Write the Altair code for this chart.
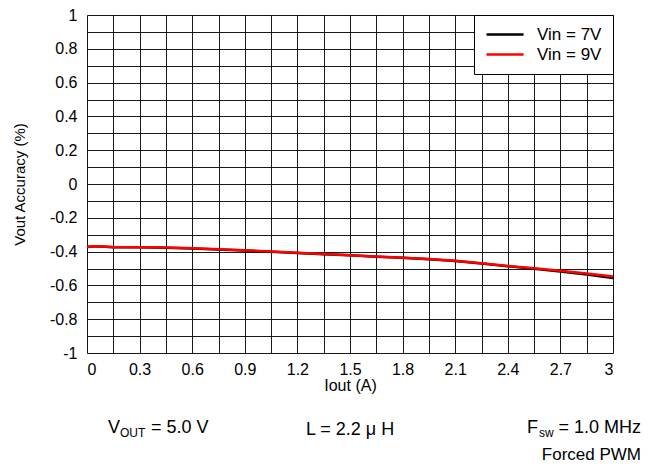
import altair as alt
import pandas as pd

iout = [0.0, 0.05, 0.15, 0.3, 0.45, 0.6, 0.75, 0.9, 1.05, 1.2, 1.35, 1.5,
        1.65, 1.8, 1.95, 2.1, 2.25, 2.4, 2.55, 2.7, 2.85, 3.0]
acc_7v = [-0.373, -0.369, -0.374, -0.375, -0.377, -0.381, -0.387, -0.393,
          -0.401, -0.408, -0.415, -0.422, -0.430, -0.437, -0.445, -0.456,
          -0.471, -0.487, -0.502, -0.518, -0.536, -0.556]
acc_9v = [-0.372, -0.369, -0.373, -0.374, -0.376, -0.380, -0.386, -0.392,
          -0.400, -0.407, -0.414, -0.421, -0.429, -0.436, -0.444, -0.454,
          -0.469, -0.485, -0.499, -0.514, -0.530, -0.548]
series = ["Vin = 7V", "Vin = 9V"]
colors = ["#000000", "#ff0000"]

x_ticks = [round(0.15 * i, 2) for i in range(21)]
y_ticks = [round(-1 + 0.1 * i, 1) for i in range(21)]

rows = []
for name, vals in zip(series, [acc_7v, acc_9v]):
    for xv, yv in zip(iout, vals):
        rows.append({"Iout": xv, "Acc": yv, "Series": name})
df = pd.DataFrame(rows)

FONT = "Liberation Sans"

lines = alt.Chart(df).mark_line(strokeWidth=2.5).encode(
    x=alt.X("Iout:Q", title="Iout (A)",
            scale=alt.Scale(domain=[0, 3], nice=False, zero=False),
            axis=alt.Axis(values=x_ticks,
                          labelExpr="abs(round(datum.value*100)) % 30 == 0 ? '' + datum.value : ''",
                          grid=True, gridColor="#000", gridWidth=1, gridOpacity=0.9,
                          ticks=False, domain=False, labelPadding=8,
                          labelFontSize=16, labelFont=FONT, labelColor="#000",
                          titleFontSize=16, titleFont=FONT, titleFontWeight="normal",
                          titleColor="#000", titlePadding=0)),
    y=alt.Y("Acc:Q", title="Vout Accuracy (%)",
            scale=alt.Scale(domain=[-1, 1], nice=False, zero=False),
            axis=alt.Axis(values=y_ticks,
                          labelExpr="abs(round(datum.value*100)) % 20 == 0 ? '' + datum.value : ''",
                          grid=True, gridColor="#000", gridWidth=1, gridOpacity=0.9,
                          ticks=False, domain=False, labelPadding=10,
                          labelFontSize=16, labelFont=FONT, labelColor="#000",
                          titleFontSize=15, titleFont=FONT, titleFontWeight="normal",
                          titleColor="#000", titlePadding=22)),
    color=alt.Color("Series:N",
                    scale=alt.Scale(domain=series, range=colors),
                    legend=alt.Legend(title=None, orient="top-right", offset=0,
                                      symbolType="M-1,0H4.3", symbolStrokeWidth=2.5,
                                      symbolSize=196, labelFontSize=17,
                                      labelFont=FONT, labelColor="#000",
                                      strokeColor="#000", fillColor="#fff",
                                      padding=11, rowPadding=2,
                                      labelOffset=35)),
    order=alt.Order("Series:N"),
)

ann = pd.DataFrame({"t": ["x"]})


def txt(s, x, y, size=18, align="left"):
    return alt.Chart(ann).mark_text(
        text=s, align=align, baseline="alphabetic", fontSize=size,
        font=FONT, color="#000").encode(x=alt.value(x), y=alt.value(y))


notes = [
    txt("V", 21, 418),
    txt("OUT", 33, 422, size=12),
    txt("= 5.0 V", 64, 418),
    txt("L = 2.2  μ H", 263, 420, align="center"),
    txt("F", 440, 418),
    txt("sw", 452, 422, size=12),
    txt("= 1.0 MHz", 554, 418, align="right"),
    txt("Forced PWM", 554, 445, size=17, align="right"),
]

chart = alt.layer(lines, *notes).properties(
    width=526, height=338,
    autosize=alt.AutoSizeParams(type="none"),
    padding={"left": 79, "top": 7, "right": 28, "bottom": 112},
).configure_view(stroke="#000", strokeWidth=2.5).configure(background="#fff")

chart.save("out.html", embed_options={"renderer": "svg", "actions": False})
